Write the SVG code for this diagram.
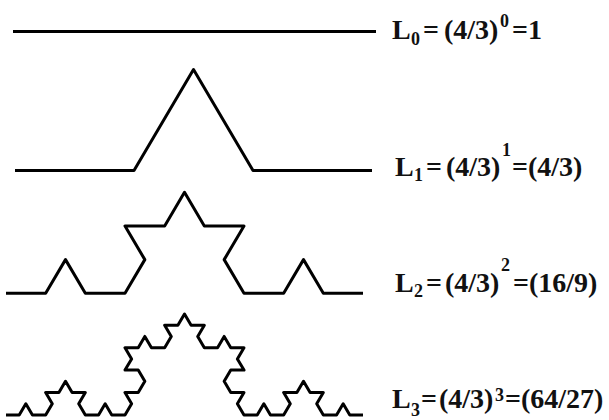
<svg xmlns="http://www.w3.org/2000/svg" width="609" height="420" viewBox="0 0 609 420">
<style>
.k{fill:none;stroke:#000;stroke-width:3;stroke-linejoin:round;stroke-linecap:butt}
.t{font-family:"Liberation Serif","Times New Roman",serif;font-weight:bold;font-size:28px;fill:#111}
.s{font-size:18px}
</style>
<rect width="609" height="420" fill="#fff"/>
<g id="curves">
<g id="koch0"><path class="k" d="M13 31.5 H376"/></g>
<g id="koch1"><path class="k" d="M15 170.5 h119 l59.5 -101 l59.5 101 h119"/></g>
<g id="koch2"><path class="k" d="M6 293.3 h39.667 l19.833 -33.667 l19.833 33.667 h39.667 l19.833 -33.667 l-19.833 -33.667 h39.667 l19.833 -33.667 l19.833 33.667 h39.667 l-19.833 33.667 l19.833 33.667 h39.667 l19.833 -33.667 l19.833 33.667 h39.667"/></g>
<g id="koch3"><path class="k" d="M6 415
h13.222 l6.611 -11.222 l6.611 11.222 h13.222
l6.611 -11.222 l-6.611 -11.222 h13.222 l6.611 -11.222
l6.611 11.222 h13.222 l-6.611 11.222 l6.611 11.222
h13.222 l6.611 -11.222 l6.611 11.222 h13.222
l6.611 -11.222 l-6.611 -11.222 h13.222 l6.611 -11.222
l-6.611 -11.222 h-13.222 l6.611 -11.222 l-6.611 -11.222
h13.222 l6.611 -11.222 l6.611 11.222 h13.222
l6.611 -11.222 l-6.611 -11.222 h13.222 l6.611 -11.222
l6.611 11.222 h13.222 l-6.611 11.222 l6.611 11.222
h13.222 l6.611 -11.222 l6.611 11.222 h13.222
l-6.611 11.222 l6.611 11.222 h-13.222 l-6.611 11.222
l6.611 11.222 h13.222 l-6.611 11.222 l6.611 11.222
h13.222 l6.611 -11.222 l6.611 11.222 h13.222
l6.611 -11.222 l-6.611 -11.222 h13.222 l6.611 -11.222
l6.611 11.222 h13.222 l-6.611 11.222 l6.611 11.222
h13.222 l6.611 -11.222 l6.611 11.222 h13.222"/></g>
</g>
<g id="label0"><text class="t"><tspan x="392" y="39">L</tspan><tspan class="s" x="411" y="45">0</tspan><tspan x="423" y="39">=</tspan><tspan x="444" y="39">(4/3)</tspan><tspan class="s" x="500" y="27">0</tspan><tspan x="512" y="39">=1</tspan></text></g>
<g id="label1"><text class="t"><tspan x="395" y="176">L</tspan><tspan class="s" x="414" y="181">1</tspan><tspan x="426" y="176">=</tspan><tspan x="446" y="176">(4/3)</tspan><tspan class="s" x="502" y="156">1</tspan><tspan x="512" y="176">=(4/3)</tspan></text></g>
<g id="label2"><text class="t"><tspan x="395" y="292">L</tspan><tspan class="s" x="414" y="297">2</tspan><tspan x="426" y="292">=</tspan><tspan x="445" y="292">(4/3)</tspan><tspan class="s" x="501" y="271">2</tspan><tspan x="513" y="292">=(16/9)</tspan></text></g>
<g id="label3"><text class="t"><tspan x="392" y="408">L</tspan><tspan class="s" x="411" y="416">3</tspan><tspan x="421" y="408">=</tspan><tspan x="439" y="408">(4/3)</tspan><tspan class="s" x="495" y="401">3</tspan><tspan x="505" y="408">=(64/27)</tspan></text></g>
</svg>
